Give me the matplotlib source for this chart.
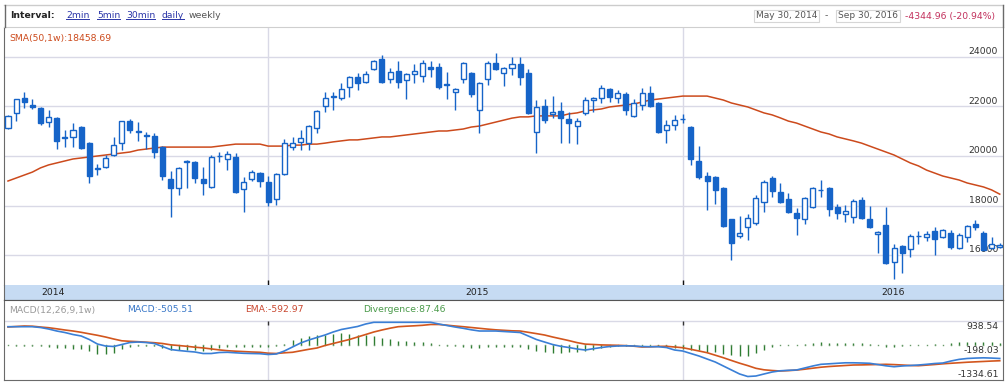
import matplotlib
matplotlib.use('Agg')
import matplotlib.pyplot as plt
from matplotlib.lines import Line2D
import numpy as np

# weekly candles, May 30 2014 - Sep 30 2016
opens = [21130, 21740, 22340, 22060, 21940, 21370, 21530, 20740, 20770, 21170,
         20520, 19470, 19550, 20040, 20520, 21410, 20960, 20830, 20810, 20360,
         19070, 18710, 19760, 19760, 19070, 18750, 19990, 19880, 19960, 18670,
         19070, 19310, 18950, 18260, 19270, 20360, 20570, 20520, 21130, 22020,
         22380, 22340, 22790, 23190, 22990, 23510, 23920, 23110, 23430, 23070,
         23310, 23230, 23600, 23600, 22880, 22590, 23110, 23350, 21860, 23110,
         23760, 23350, 23560, 23720, 23350, 20970, 22020, 21700, 21820, 21490,
         21210, 21740, 22260, 22340, 22710, 22340, 22500, 21620, 22060, 22540,
         22140, 21050, 21250, 21480, 21170, 19800, 19190, 19150, 18710, 17450,
         16770, 17130, 17290, 18140, 19110, 18550, 18260, 17700, 17450, 17940,
         18610, 18710, 17940, 17660, 17540, 18220, 17450, 16850, 17210, 15720,
         16360, 16240, 16750, 16730, 16970, 16730, 16890, 16280, 16730, 17250,
         16890, 16280, 16340]
highs = [21650, 22320, 22590, 22300, 21980, 21860, 21580, 21050, 21330, 21210,
         20560, 19680, 20040, 20770, 21430, 21490, 21370, 20970, 20930, 20400,
         19390, 19550, 19820, 19800, 19550, 20060, 20160, 20200, 20120, 19150,
         19430, 19350, 19190, 19310, 20690, 20770, 21050, 21250, 21860, 22590,
         22590, 22950, 23230, 23350, 23430, 23880, 24080, 23560, 23840, 23350,
         23720, 23880, 23840, 23760, 23390, 22750, 23800, 23390, 22990, 23840,
         24160, 23600, 24000, 24000, 23510, 22260, 22300, 22420, 22180, 21780,
         21530, 22380, 22380, 22870, 22750, 22670, 22590, 22300, 22750, 22830,
         22180, 21450, 21660, 21700, 21210, 20400, 19350, 19190, 18750, 17450,
         17580, 17660, 18420, 19030, 19190, 18910, 18510, 17900, 18340, 18750,
         19030, 18750, 18060, 18020, 18260, 18340, 17980, 16970, 17940, 16440,
         16400, 16850, 16970, 16970, 17130, 17050, 17010, 16890, 17210, 17410,
         16970, 16730, 16500]
lows = [21090, 21410, 21940, 21900, 21250, 21170, 20280, 20360, 20360, 20280,
        18910, 19230, 19510, 19990, 20240, 20930, 20610, 20280, 19920, 19030,
        17540, 18420, 18710, 18910, 18420, 18700, 19760, 19430, 18500, 17740,
        18990, 18750, 17980, 18020, 19230, 20240, 20240, 20240, 20930, 21780,
        21860, 22260, 22380, 22670, 22950, 23470, 22950, 22950, 22750, 22300,
        22950, 22990, 23190, 22710, 22300, 21860, 22950, 22380, 20930, 22870,
        23470, 22830, 23270, 22870, 21700, 20120, 21330, 21530, 20520, 20520,
        20480, 21660, 21780, 22140, 22180, 22140, 21660, 21580, 21860, 21980,
        20930, 20520, 21050, 21330, 19640, 19070, 17820, 18060, 17130, 15800,
        16690, 16610, 17210, 17740, 18340, 18100, 17700, 16810, 17250, 17900,
        18340, 17580, 17450, 17330, 17290, 17460, 17090, 16080, 15640, 15030,
        15270, 15920, 16440, 16570, 16000, 16690, 16240, 16240, 16530, 17010,
        16160, 16240, 16300]
closes = [21620, 22300, 22180, 21980, 21330, 21580, 20610, 20720, 21050, 20320,
          19190, 19490, 19920, 20440, 21410, 21050, 20980, 20800, 20160, 19190,
          18710, 19510, 19800, 19110, 18910, 19960, 20010, 20080, 18550, 18950,
          19350, 18990, 18140, 19270, 20520, 20520, 20730, 21210, 21820, 22340,
          22400, 22710, 23190, 22950, 23310, 23840, 22990, 23390, 22990, 23310,
          23430, 23760, 23510, 22790, 22860, 22710, 23760, 22500, 22950, 23760,
          23510, 23560, 23720, 23190, 21740, 21980, 21450, 21780, 21530, 21330,
          21410, 22260, 22340, 22750, 22380, 22540, 21860, 22140, 22540, 22020,
          20970, 21250, 21450, 21500, 19880, 19150, 18990, 18630, 17170, 16480,
          16890, 17500, 18300, 18950, 18590, 18140, 17740, 17500, 18300, 18710,
          18630, 17860, 17700, 17780, 18180, 17500, 17130, 16930, 15680, 16280,
          16080, 16770, 16770, 16850, 16650, 17010, 16320, 16810, 17170, 17130,
          16200, 16440, 16400]

# SMA(50,1w)
sma = [18990, 19110, 19230, 19350, 19520, 19640, 19720, 19800, 19880, 19920,
       19960, 20000, 20040, 20080, 20120, 20160, 20240, 20280, 20320, 20360,
       20360, 20360, 20360, 20360, 20360, 20360, 20400, 20440, 20480, 20480,
       20480, 20480, 20400, 20400, 20400, 20440, 20440, 20480, 20480, 20520,
       20570, 20610, 20650, 20650, 20690, 20730, 20770, 20770, 20810, 20850,
       20890, 20930, 20970, 21010, 21010, 21050, 21090, 21170, 21210, 21290,
       21370, 21450, 21530, 21580, 21580, 21620, 21620, 21620, 21620, 21700,
       21740, 21820, 21860, 21900, 21980, 22020, 22060, 22100, 22180, 22260,
       22300, 22340, 22380, 22420, 22420, 22420, 22420, 22340, 22260, 22140,
       22060, 21980, 21860, 21740, 21660, 21540, 21410, 21330, 21210, 21090,
       20970, 20890, 20770, 20690, 20610, 20520, 20400, 20280, 20160, 20040,
       19880, 19720, 19600, 19430, 19310, 19190, 19110, 19030, 18910, 18830,
       18750, 18630, 18458.69]

# MACD(12,26,9,1w)
macd = [719, 719, 719, 719, 688, 630, 553, 495, 418, 361,
        226, 52, -25, -44, 33, 110, 129, 110, 72, -44,
        -160, -198, -229, -256, -314, -314, -275, -267, -287, -306,
        -314, -321, -352, -333, -217, -63, 91, 206, 303, 399,
        515, 611, 669, 727, 823, 888, 888, 888, 888, 888,
        888, 888, 888, 823, 765, 707, 657, 599, 553, 553,
        553, 534, 515, 495, 361, 226, 129, 33, -36, -83,
        -140, -179, -129, -83, -44, -25, -17, -25, -44, -52,
        -52, -83, -179, -217, -314, -410, -526, -641, -795, -949,
        -1103, -1200, -1181, -1103, -1027, -980, -961, -949, -872, -795,
        -730, -711, -691, -672, -672, -680, -691, -738, -788, -823,
        -795, -776, -757, -730, -699, -680, -603, -540, -505, -490,
        -480, -490, -505.51]
ema = [707, 727, 746, 738, 707, 680, 638, 592, 553, 503,
       445, 388, 322, 245, 176, 156, 141, 122, 102, 72,
       21, -6, -36, -71, -98, -137, -175, -206, -225, -240,
       -256, -267, -302, -314, -287, -267, -210, -152, -102, -6,
       72, 149, 226, 322, 418, 515, 592, 661, 719, 738,
       754, 773, 804, 804, 777, 746, 719, 688, 657, 626,
       599, 580, 561, 553, 503, 453, 399, 322, 253, 183,
       106, 48, 33, 17, 10, 2, -10, -33, -63, -56,
       -40, -36, -63, -90, -152, -217, -283, -379, -476, -583,
       -687, -780, -884, -942, -969, -988, -973, -953, -919, -880,
       -842, -815, -795, -776, -757, -753, -745, -738, -730, -741,
       -757, -776, -784, -761, -738, -711, -690, -670, -650, -635,
       -620, -605, -592.97]

price_ticks = [16000, 18000, 20000, 22000, 24000]
year_start = [32, 83]            # first candle of 2015 and 2016
year_labels = ['2014', '2015', '2016']
year_label_pos = [5.5, 57.7, 108.9]
macd_levels = [938.54, -198.03, -1334.61]

intervals = ['2min', '5min', '30min', 'daily', 'weekly']
date_from, date_to = 'May 30, 2014', 'Sep 30, 2016'
change_txt = '-4344.96 (-20.94%)'

BLUE = '#1664c8'
SMA_C = '#cc4a1c'
GRID = '#d9d9e6'
BORDER = '#6a6a6a'
FS = 6.7

W, H = 1008, 383
plt.rcParams['font.family'] = 'DejaVu Sans'
fig = plt.figure(figsize=(W / 100, H / 100), dpi=100)


def box(left, top, right, bottom):
    return [left / W, 1 - bottom / H, (right - left) / W, (bottom - top) / H]


def fx(px):
    return px / W


def fy(py):
    return 1 - py / H


n = len(opens)
x = np.arange(n)
o = np.array(opens, float)
c = np.array(closes, float)
hi = np.array(highs, float)
lo = np.array(lows, float)
xlim = (-0.49, n - 0.6)

# ---- price panel
ax = fig.add_axes(box(4, 27, 1003, 285))
ax.set_xlim(*xlim)
ax.set_ylim(14790, 25210)
for v in price_ticks:
    ax.axhline(v, color=GRID, lw=1, zorder=0)
    ax.annotate(str(v), xy=(1, v), xycoords=('axes fraction', 'data'),
                xytext=(-3.5, 0.5), textcoords='offset points',
                ha='right', va='bottom', fontsize=FS, color='#333')
for i in year_start:
    ax.axvline(i, color=GRID, lw=1, zorder=0)
ax.vlines(year_start, 14790, 14790 + 200, color='#111', lw=1, zorder=1)

ax.plot(x, sma, color=SMA_C, lw=1.1, zorder=1)

up = c >= o
body_lo = np.minimum(o, c)
body_h = np.maximum(np.abs(c - o), 30)
ax.vlines(x, lo, hi, color=BLUE, lw=1, zorder=2)
ax.bar(x[up], body_h[up], bottom=body_lo[up], width=0.62, facecolor='white',
       edgecolor=BLUE, lw=1, zorder=3)
ax.bar(x[~up], body_h[~up], bottom=body_lo[~up], width=0.62, facecolor=BLUE,
       edgecolor=BLUE, lw=1, zorder=3)

ax.set_xticks([])
ax.set_yticks([])
ax.spines['bottom'].set_visible(False)
ax.spines['top'].set_color('#cfcfcf')
for s in ('left', 'right'):
    ax.spines[s].set_color(BORDER)

# ---- year band
band = fig.add_axes(box(4, 285, 1003, 300), facecolor='#c6dbf3')
band.set_xlim(*xlim)
band.set_ylim(0, 1)
for lbl, p in zip(year_labels, year_label_pos):
    band.text(p, 0.5, lbl, ha='center', va='center', fontsize=FS, color='#222')
band.set_xticks([])
band.set_yticks([])
band.spines['top'].set_visible(False)
band.spines['bottom'].set_color('#555')
for s in ('left', 'right'):
    band.spines[s].set_color(BORDER)

# ---- MACD panel
m = np.array(macd, float)
e = np.array(ema, float)
div = m - e
ax2 = fig.add_axes(box(4, 300, 1003, 380))
ax2.set_xlim(*xlim)
ax2.set_ylim(-1334.61, 1747.7)
ax2.axhline(macd_levels[0], color=GRID, lw=1, zorder=0)
ax2.vlines(year_start, macd_levels[2], macd_levels[0], color=GRID, lw=1, zorder=0)
ax2.vlines(year_start, macd_levels[0] - 150, macd_levels[0], color='#333', lw=1, zorder=1)
ax2.vlines(x, 0, div, color='#2e7d32', lw=1, zorder=1)
ax2.plot(x, np.zeros(n), ls='none', marker='s', ms=1.0, mew=0, color='#6a9a6a', zorder=1)
ax2.plot(x, e, color='#d2561e', lw=1.2, zorder=2)
ax2.plot(x, m, color='#3a7fd6', lw=1.2, zorder=3)
for v, va, dy in zip(macd_levels, ['top', 'center', 'bottom'], [-0.5, 0, 0.5]):
    ax2.annotate(f'{v:.2f}', xy=(1, v), xycoords=('axes fraction', 'data'),
                 xytext=(-3, dy), textcoords='offset points',
                 ha='right', va=va, fontsize=FS, color='#333')
ax2.set_xticks([])
ax2.set_yticks([])
for s in ('left', 'right', 'bottom'):
    ax2.spines[s].set_color(BORDER)
ax2.spines['top'].set_color('#555')

fig.text(fx(9), fy(310), 'MACD(12,26,9,1w)', fontsize=FS, color='#9a9a9a', va='center')
fig.text(fx(127), fy(310), f'MACD:{macd[-1]:.2f}', fontsize=FS, color='#3a78c8', va='center')
fig.text(fx(245), fy(310), f'EMA:{ema[-1]:.2f}', fontsize=FS, color='#c9472f', va='center')
fig.text(fx(363), fy(310), f'Divergence:{macd[-1] - ema[-1]:.2f}', fontsize=FS,
         color='#4a9a4a', va='center')

# ---- header
fig.text(fx(9), fy(38), f'SMA(50,1w):{sma[-1]:.2f}', fontsize=FS, color=SMA_C, va='center')
fig.text(fx(10), fy(16), 'Interval:', fontsize=FS, fontweight='bold', color='#222', va='center')
links = []
for name, px in zip(intervals, [66, 97, 126, 162, 189]):
    col = '#555' if name == 'weekly' else '#2a35a8'
    t = fig.text(fx(px), fy(16), name, fontsize=FS, color=col, va='center')
    if name != 'weekly':
        links.append(t)

boxkw = dict(boxstyle='square,pad=0.2', fc='white', ec='#d6d6d6', lw=0.8)
fig.text(fx(756), fy(16), date_from, fontsize=6.5, color='#555', va='center', bbox=boxkw)
fig.text(fx(825), fy(16), '-', fontsize=FS, color='#555', va='center')
fig.text(fx(838), fy(16), date_to, fontsize=6.5, color='#555', va='center', bbox=boxkw)
fig.text(fx(905), fy(16), change_txt, fontsize=FS, color='#c2305c', va='center')

# outer frame of the widget
fig.add_artist(Line2D([fx(4), fx(1003)], [fy(5), fy(5)], color='#cccccc', lw=1))
fig.add_artist(Line2D([fx(4.5), fx(4.5)], [fy(5), fy(27)], color=BORDER, lw=1))
fig.add_artist(Line2D([fx(1002.5), fx(1002.5)], [fy(5), fy(27)], color=BORDER, lw=1))

renderer = fig.canvas.get_renderer()
for t in links:
    bb = t.get_window_extent(renderer)
    yb = (bb.y0 + 1.5) / H
    fig.add_artist(Line2D([bb.x0 / W, bb.x1 / W], [yb, yb], color=t.get_color(), lw=0.7))

fig.savefig('out.png', dpi=100, facecolor='white')
